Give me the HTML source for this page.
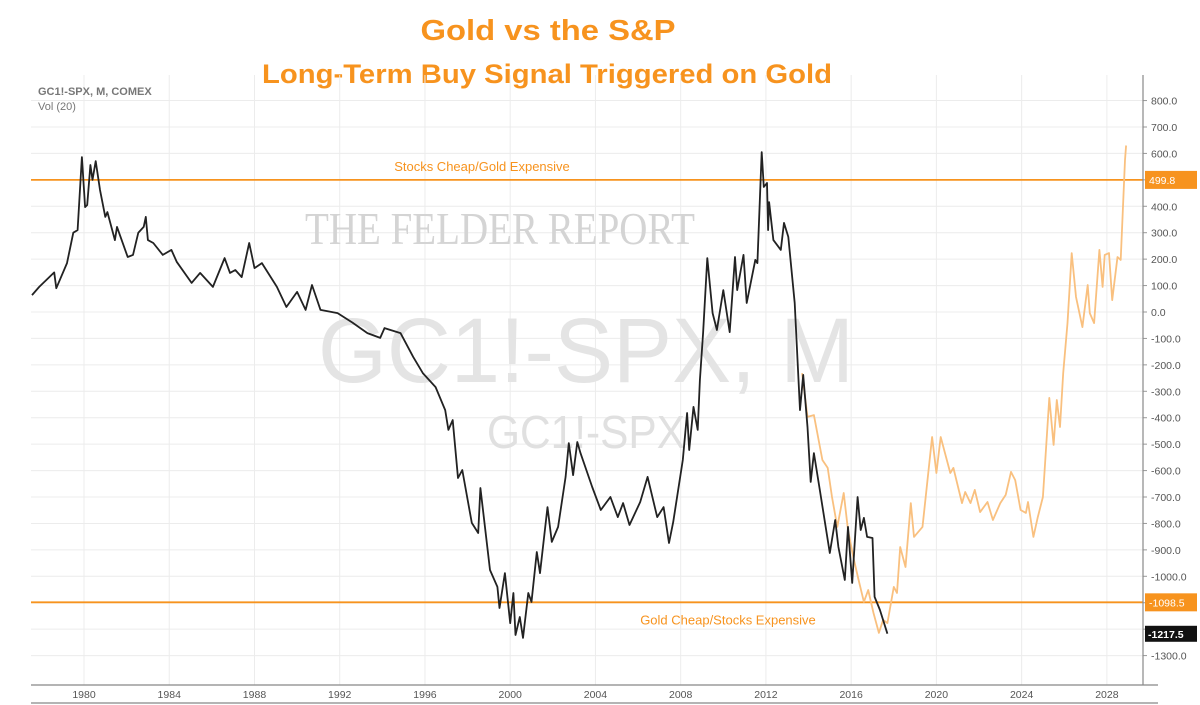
<!DOCTYPE html>
<html><head><meta charset="utf-8">
<style>
html,body{margin:0;padding:0;background:#fff;}
svg{display:block;font-family:"Liberation Sans",sans-serif;}
</style></head>
<body>
<svg id="chart" width="1200" height="705" viewBox="0 0 1200 705" xmlns="http://www.w3.org/2000/svg">
  <text x="548" y="40" text-anchor="middle" font-size="29" font-weight="bold" fill="#f7931e" textLength="255" lengthAdjust="spacingAndGlyphs">Gold vs the S&amp;P</text>
  <text x="547" y="83" text-anchor="middle" font-size="27" font-weight="bold" fill="#f7931e" textLength="570" lengthAdjust="spacingAndGlyphs">Long-Term Buy Signal Triggered on Gold</text>
  <g id="grid"></g>
  <g fill="#d4d4d4">
    <text x="500" y="244" text-anchor="middle" font-family="Liberation Serif,serif" font-size="46" textLength="390" lengthAdjust="spacingAndGlyphs">THE FELDER REPORT</text>
    <text x="586" y="382" text-anchor="middle" font-size="92" fill="#e4e4e4" textLength="536" lengthAdjust="spacingAndGlyphs">GC1!-SPX, M</text>
    <text x="586" y="448" text-anchor="middle" font-size="46" fill="#e0e0e0" textLength="198" lengthAdjust="spacingAndGlyphs">GC1!-SPX</text>
  </g>
  <text x="38" y="95" font-size="11" font-weight="bold" fill="#777">GC1!-SPX, M, COMEX</text>
  <text x="38" y="110" font-size="11" fill="#777">Vol (20)</text>
  <g id="levels"></g>
  <g id="series"></g>
  <g id="axes"></g>
</svg>
<script>
const yTicks = [800,700,600,500,400,300,200,100,0,-100,-200,-300,-400,-500,-600,-700,-800,-900,-1000,-1100,-1200,-1300];
const xTicks = [1980,1984,1988,1992,1996,2000,2004,2008,2012,2016,2020,2024,2028];
const levelValues = [499.8, -1098.5];
const levelLabels = ["Stocks Cheap/Gold Expensive", "Gold Cheap/Stocks Expensive"];
const lastValue = -1217.5;
const blackYears = [1977.56,1977.9,1978.6,1978.7,1979.2,1979.5,1979.7,1979.9,1980.05,1980.15,1980.3,1980.4,1980.55,1980.75,1981.0,1981.1,1981.45,1981.55,1982.05,1982.3,1982.55,1982.8,1982.9,1983.0,1983.25,1983.7,1984.1,1984.35,1985.05,1985.45,1986.05,1986.6,1986.85,1987.1,1987.4,1987.75,1988.0,1988.35,1989.05,1989.5,1990.0,1990.4,1990.7,1991.1,1991.9,1992.6,1993.3,1993.9,1994.1,1994.85,1995.45,1995.9,1996.5,1996.95,1997.1,1997.3,1997.55,1997.75,1998.2,1998.5,1998.6,1999.05,1999.4,1999.5,1999.75,2000.0,2000.15,2000.25,2000.45,2000.6,2000.85,2001.0,2001.25,2001.4,2001.75,2001.95,2002.25,2002.6,2002.75,2002.95,2003.15,2003.3,2003.85,2004.25,2004.7,2005.05,2005.3,2005.6,2006.1,2006.45,2006.9,2007.2,2007.45,2007.65,2008.1,2008.3,2008.4,2008.6,2008.8,2008.9,2009.05,2009.25,2009.5,2009.7,2010.0,2010.3,2010.55,2010.65,2010.95,2011.1,2011.5,2011.6,2011.8,2011.9,2012.05,2012.1,2012.15,2012.35,2012.7,2012.85,2013.05,2013.35,2013.6,2013.75,2013.95,2014.1,2014.25,2014.55,2015.0,2015.25,2015.4,2015.7,2015.85,2016.05,2016.3,2016.45,2016.6,2016.75,2017.0,2017.1,2017.35,2017.7];
const blackValues = [64,95,150,90,185,300,310,586,397,405,556,500,571,462,360,378,272,322,208,216,300,322,360,272,261,216,235,190,110,148,95,204,148,159,132,261,166,185,95,19,76,8,102,8,-4,-40,-80,-98,-61,-80,-170,-231,-284,-371,-446,-409,-628,-598,-798,-836,-666,-976,-1040,-1120,-988,-1177,-1063,-1222,-1154,-1233,-1063,-1097,-908,-988,-738,-870,-813,-624,-496,-617,-492,-534,-662,-749,-700,-776,-723,-806,-719,-624,-776,-738,-874,-795,-560,-382,-522,-359,-446,-257,-79,204,-4,-68,83,-76,208,83,216,34,197,185,605,473,488,310,416,272,235,337,284,34,-371,-238,-435,-643,-534,-685,-912,-787,-889,-1014,-813,-1025,-700,-825,-779,-851,-855,-1078,-1127,-1217];
const orangeYears = [2013.7,2013.95,2014.25,2014.65,2014.9,2015.1,2015.35,2015.65,2015.85,2016.1,2016.35,2016.6,2016.8,2017.05,2017.3,2017.5,2017.7,2018.0,2018.15,2018.3,2018.55,2018.8,2018.95,2019.35,2019.8,2020.0,2020.2,2020.65,2020.8,2021.2,2021.35,2021.6,2021.8,2022.05,2022.4,2022.65,2023.0,2023.25,2023.5,2023.7,2023.95,2024.2,2024.3,2024.55,2024.75,2025.0,2025.3,2025.5,2025.65,2025.8,2025.95,2026.15,2026.35,2026.55,2026.85,2027.1,2027.2,2027.4,2027.65,2027.8,2027.9,2028.1,2028.25,2028.5,2028.65,2028.85,2028.9];
const orangeValues = [-231,-397,-390,-560,-590,-700,-813,-685,-825,-927,-1014,-1097,-1052,-1139,-1214,-1165,-1177,-1040,-1063,-889,-965,-723,-851,-813,-473,-609,-473,-609,-590,-723,-681,-723,-673,-757,-719,-787,-723,-692,-605,-636,-749,-760,-719,-851,-779,-700,-325,-503,-333,-435,-231,-42,223,57,-57,102,-4,-42,235,95,216,223,45,208,197,575,630];

const NS = "http://www.w3.org/2000/svg";
const L = 31, R = 1143, T = 75, B = 685;
function xs(yr){ return 84 + (yr - 1980) * 21.31; }
function ys(v){ return 312 - v * 0.2643; }
function mk(tag, attrs, parent){ const e = document.createElementNS(NS, tag); for (const k in attrs) e.setAttribute(k, attrs[k]); parent.appendChild(e); return e; }

const grid = document.getElementById('grid');
const axes = document.getElementById('axes');
yTicks.forEach(v => {
  const ln = mk('line', {x1:L, x2:R, y1:ys(v), y2:ys(v), stroke:'#ececec', 'stroke-width':1}, grid);
  
  
  const t = mk('text', {x:R+8, y:ys(v)+4, 'font-size':10.5, fill:'#555'}, axes);
  
  
  t.textContent = v.toFixed(1);
  mk('line', {x1:R, x2:R+4, y1:ys(v), y2:ys(v), stroke:'#999'}, axes);
});
xTicks.forEach(yr => {
  const ln = mk('line', {x1:xs(yr), x2:xs(yr), y1:T, y2:B, stroke:'#ececec', 'stroke-width':1}, grid);
  
  
  const t = mk('text', {x:xs(yr), y:698, 'font-size':10.5, 'text-anchor':'middle', fill:'#555'}, axes);
  
  
  t.textContent = yr;
});
const ax1 = mk('line', {x1:R, x2:R, y1:T, y2:B, stroke:'#888', 'stroke-width':1.2}, axes);


const ax2 = mk('line', {x1:L, x2:R+15, y1:B, y2:B, stroke:'#888', 'stroke-width':1.2}, axes);


const ax3 = mk('line', {x1:L, x2:R+15, y1:703, y2:703, stroke:'#888', 'stroke-width':1.2}, axes);



const levels = document.getElementById('levels');
levelValues.forEach((v, i) => {
  const ln = mk('line', {x1:L, x2:R, y1:ys(v), y2:ys(v), stroke:'#f7931e', 'stroke-width':1.8}, levels);
  
  
  const lb = mk('text', {x: i === 0 ? 482 : 728, y: i === 0 ? ys(v) - 9 : ys(v) + 22, 'font-size':13, 'text-anchor':'middle', fill:'#f7931e'}, levels);
  
  
  lb.textContent = levelLabels[i];
  const bx = mk('rect', {x:R+2, y:ys(v)-9, width:52, height:18, fill:'#f7931e'}, axes);
  
  
  const bt = mk('text', {x:R+6, y:ys(v)+4, 'font-size':10.5, fill:'#fff'}, axes);
  
  
  bt.textContent = v.toFixed(1);
});
const lbx = mk('rect', {x:R+2, y:ys(lastValue)-8, width:52, height:16, fill:'#111'}, axes);


const lbt = mk('text', {x:R+5, y:ys(lastValue)+4, 'font-size':10.5, 'font-weight':'bold', fill:'#fff'}, axes);


lbt.textContent = lastValue.toFixed(1);

const series = document.getElementById('series');
function path(xsArr, vsArr){ return xsArr.map((yr,i)=> (i?'L':'M') + xs(yr).toFixed(1) + ',' + ys(vsArr[i]).toFixed(1)).join(''); }
const op = mk('path', {d:path(orangeYears, orangeValues), fill:'none', stroke:'#f9c07f', 'stroke-width':1.8, 'stroke-linejoin':'round'}, series);


const bp = mk('path', {d:path(blackYears, blackValues), fill:'none', stroke:'#222', 'stroke-width':1.8, 'stroke-linejoin':'round'}, series);


</script>
</body></html>
